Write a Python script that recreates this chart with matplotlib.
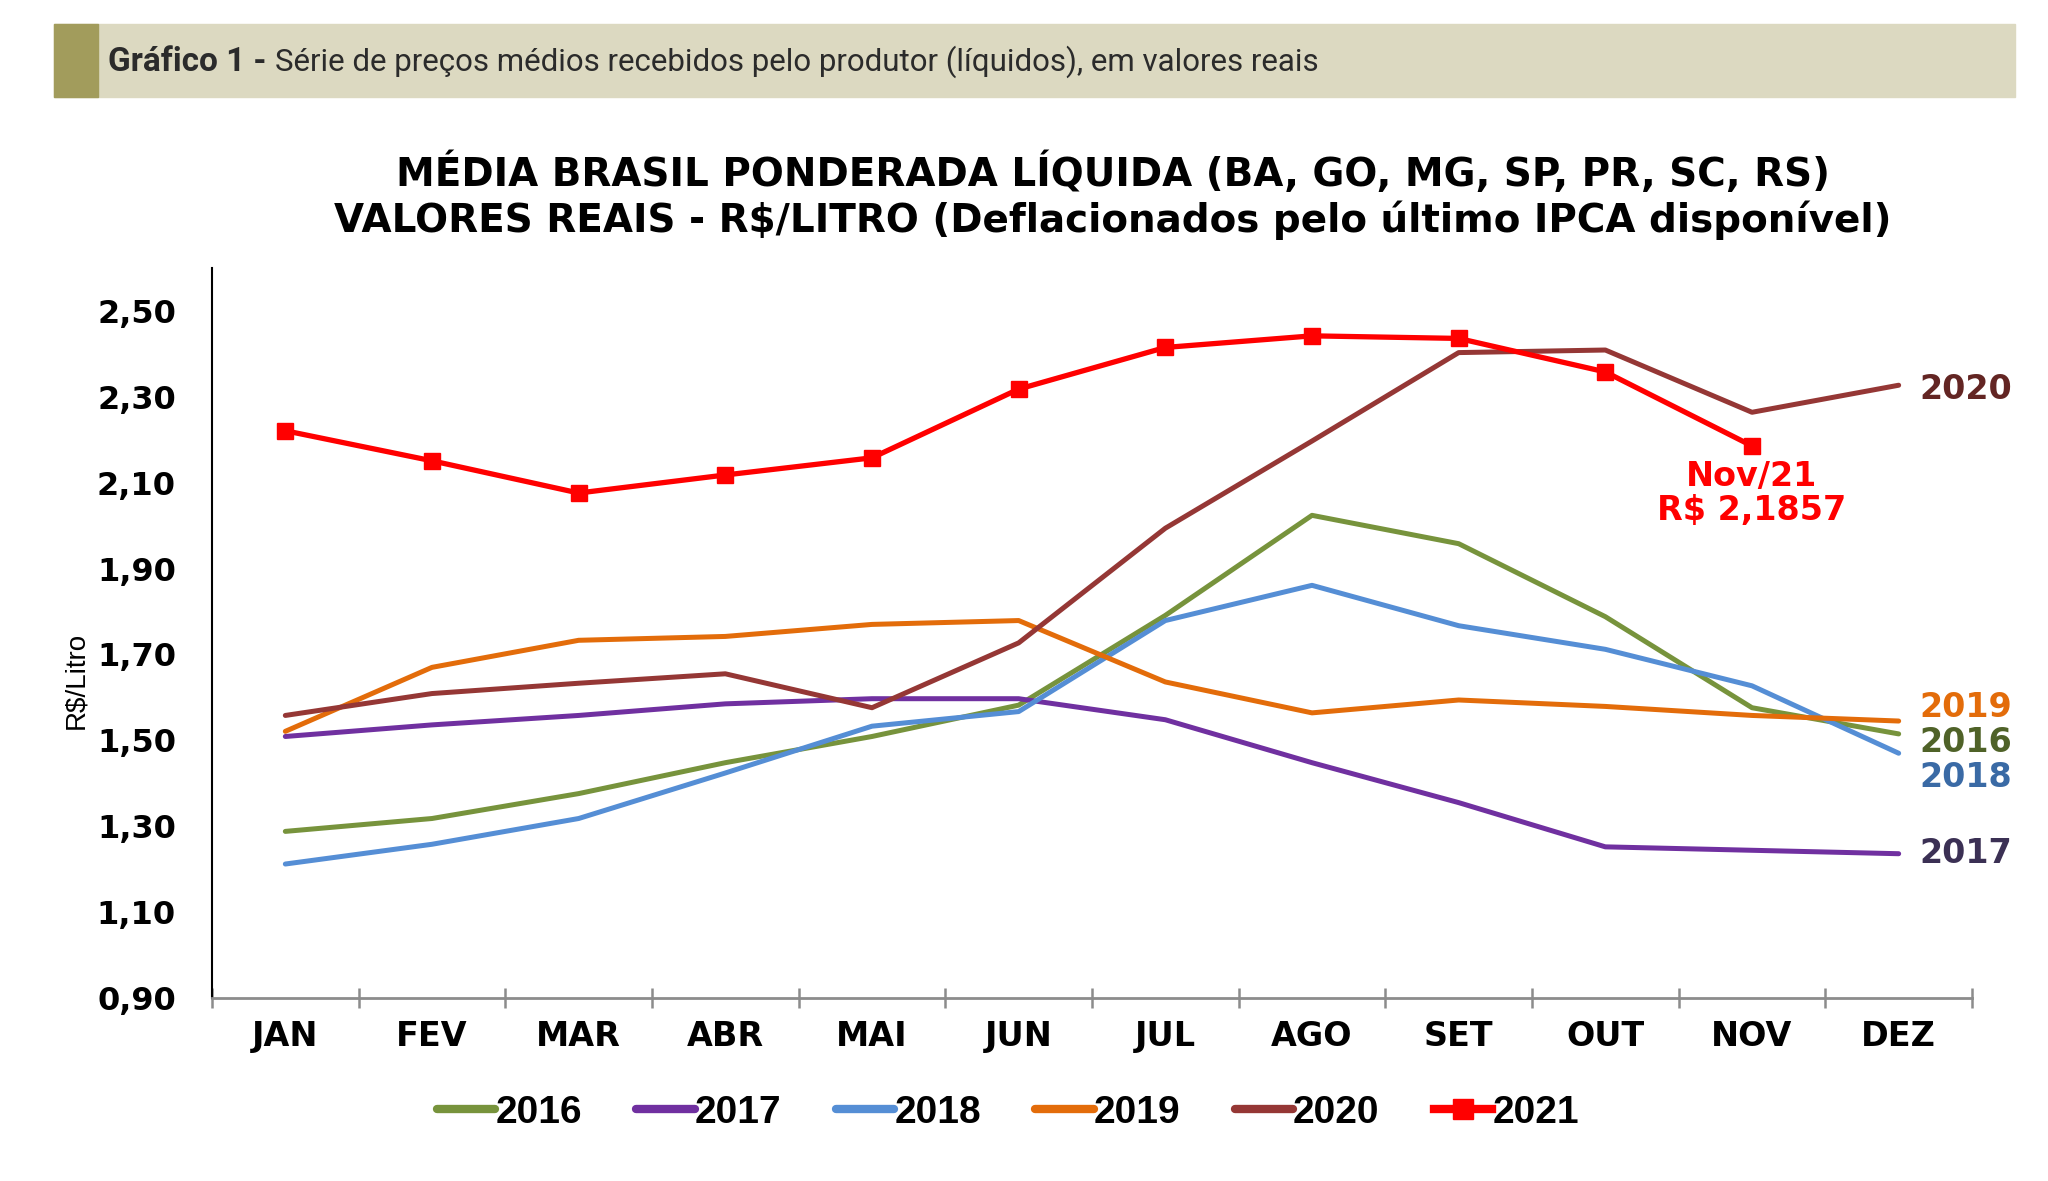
import numpy as np
import matplotlib
matplotlib.use('Agg')
import matplotlib.pyplot as plt
from matplotlib.patches import Rectangle
from matplotlib.lines import Line2D
from matplotlib.ticker import FixedLocator, NullFormatter

# data
months = ['JAN', 'FEV', 'MAR', 'ABR', 'MAI', 'JUN', 'JUL', 'AGO', 'SET', 'OUT', 'NOV', 'DEZ']
y2016 = [1.288, 1.318, 1.376, 1.448, 1.509, 1.582, 1.791, 2.024, 1.958, 1.788, 1.576, 1.515]
y2017 = [1.509, 1.536, 1.558, 1.585, 1.597, 1.597, 1.548, 1.448, 1.355, 1.252, 1.244, 1.236]
y2018 = [1.212, 1.258, 1.318, 1.424, 1.533, 1.567, 1.779, 1.861, 1.767, 1.712, 1.627, 1.470]
y2019 = [1.521, 1.670, 1.733, 1.742, 1.770, 1.779, 1.636, 1.564, 1.594, 1.579, 1.558, 1.545]
y2020 = [1.558, 1.609, 1.633, 1.655, 1.576, 1.727, 1.994, 2.197, 2.403, 2.409, 2.264, 2.327]
y2021 = [2.221, 2.151, 2.076, 2.118, 2.158, 2.318, 2.415, 2.442, 2.436, 2.358, 2.1857]
yticks = [0.90, 1.10, 1.30, 1.50, 1.70, 1.90, 2.10, 2.30, 2.50]

series = [
    ('2016', y2016, '#77933c', '#4f6228'),
    ('2017', y2017, '#7030a0', '#3b3054'),
    ('2018', y2018, '#558ed5', '#3a6aa5'),
    ('2019', y2019, '#e36c0a', '#e36c0a'),
    ('2020', y2020, '#953735', '#632523'),
]
end_label_y = {'2020': 2.316, '2019': 1.576, '2016': 1.495, '2018': 1.413, '2017': 1.236}

plt.rcParams['font.family'] = ['DejaVu Sans']
arial = ['Liberation Sans', 'DejaVu Sans']

fig = plt.figure(figsize=(20.48, 11.81), dpi=100)

# header band
fig.patches.append(Rectangle((54 / 2048, 1 - 97 / 1181), (2015 - 54) / 2048, 73 / 1181,
                             transform=fig.transFigure, color='#dcd9c1', zorder=0))
fig.patches.append(Rectangle((54 / 2048, 1 - 97 / 1181), 44 / 2048, 73 / 1181,
                             transform=fig.transFigure, color='#a29c5c', zorder=1))
t1 = fig.text(108 / 2048, 1 - 62 / 1181, 'Gráfico 1 - ', family='Roboto', fontweight='bold',
              fontsize=24, color='#2b2b2b', va='center', ha='left')
fig.canvas.draw()
bb = t1.get_window_extent()
fig.text(bb.x1 / 2048, 1 - 62 / 1181,
         'Série de preços médios recebidos pelo produtor (líquidos), em valores reais',
         family='Roboto', fontsize=22.5, color='#2b2b2b', va='center', ha='left')

fig.text(1113 / 2048, 1 - 196 / 1181,
         'MÉDIA BRASIL PONDERADA LÍQUIDA (BA, GO, MG, SP, PR, SC, RS)\n'
         'VALORES REAIS - R$/LITRO (Deflacionados pelo último IPCA disponível)',
         ha='center', va='center', fontsize=28, fontweight='bold', linespacing=1.2)

ax = fig.add_axes([212 / 2048, 1 - 998 / 1181, (1972 - 212) / 2048, (998 - 268) / 1181])
x = np.arange(len(months))

handles = []
for name, vals, col, _ in series:
    ax.plot(x, vals, color=col, lw=3.6, solid_capstyle='round')
    handles.append(Line2D([], [], color=col, lw=6, solid_capstyle='round', label=name))
ax.plot(np.arange(len(y2021)), y2021, color='#ff0000', lw=3.8, marker='s',
        markersize=12, zorder=5)
handles.append(Line2D([], [], color='#ff0000', lw=6, marker='s', markersize=14, label='2021'))

ax.set_xlim(-0.5, 11.5)
ax.set_ylim(0.9, 2.6)
ax.set_yticks(yticks)
ax.set_yticklabels([f'{v:.2f}'.replace('.', ',') for v in yticks], fontsize=23, fontweight='bold')
ax.tick_params(axis='y', length=0, pad=26)
ax.set_xticks(x)
ax.set_xticklabels(months, fontsize=24, fontweight='bold')
ax.xaxis.set_minor_locator(FixedLocator(np.arange(-0.5, 12, 1)))
ax.xaxis.set_minor_formatter(NullFormatter())
ax.tick_params(axis='x', which='major', length=0, pad=16)
ax.tick_params(axis='x', which='minor', length=14, width=1.8, color='#8c8c8c', direction='inout')
for s in ['top', 'right']:
    ax.spines[s].set_visible(False)
ax.spines['bottom'].set_color('#8c8c8c')
ax.spines['bottom'].set_linewidth(2)
ax.spines['left'].set_color('black')
ax.spines['left'].set_linewidth(1.5)
ax.set_ylabel('R$/Litro', fontsize=20, family=arial, va='center')
ax.yaxis.set_label_coords(-0.077, 0.435)

# end labels
for name, vals, col, tcol in series:
    ax.annotate(name, xy=(11.14, end_label_y[name]), xycoords='data', color=tcol,
                fontsize=24, fontweight='bold', va='center', ha='left', annotation_clip=False)

ax.annotate('Nov/21\nR$ 2,1857', xy=(10, y2021[-1]), xytext=(0, -10), textcoords='offset points',
            ha='center', va='top', color='#ff0000', fontsize=24, fontweight='bold',
            linespacing=1.05)

fig.legend(handles=handles, loc='center', bbox_to_anchor=(1008 / 2048, 1 - 1113 / 1181), ncol=6,
           frameon=False, prop={'family': arial, 'weight': 'bold', 'size': 28},
           handlelength=1.5, handletextpad=0.0, columnspacing=1.4)

fig.savefig('out.png', dpi=100)
